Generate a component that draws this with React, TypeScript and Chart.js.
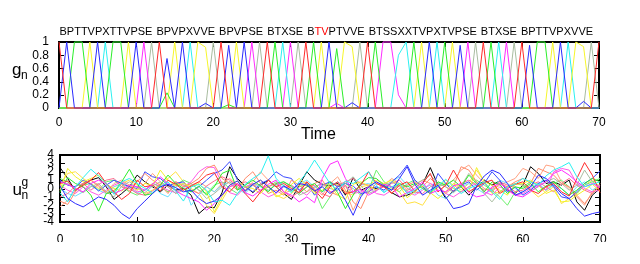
import React, { useEffect, useRef } from "react";
import { Chart, registerables } from "chart.js";

Chart.register(...registerables);

// ---------- data ----------
const TIME = [
  0, 1, 2, 3, 4, 5, 6, 7, 8, 9, 10, 11, 12, 13, 14, 15, 16, 17, 18, 19, 20,
  21, 22, 23, 24, 25, 26, 27, 28, 29, 30, 31, 32, 33, 34, 35, 36, 37, 38, 39, 40,
  41, 42, 43, 44, 45, 46, 47, 48, 49, 50, 51, 52, 53, 54, 55, 56, 57, 58, 59, 60,
  61, 62, 63, 64, 65, 66, 67, 68, 69, 70,
];

const SEQUENCE_WORDS = [
  "BPTTVPXTTVPSE", "BPVPXVVE", "BPVPSE", "BTXSE", "BTVPTVVE",
  "BTSSXXTVPXTVPSE", "BTXSE", "BPTTVPXVVE",
];
const RED_LETTERS = [33, 34];

// g_n : one unit per symbol
const G_B = [1,0,0,0,0,0,0,0,0,0, 0,0,0,1,0,0,0,0,0,0, 0,1,0,0,0,0,0,1,0,0, 0,0,1,0,0,0,0,0,0,0, 1,0,0,0,0,0,0,0,0,0, 0,0,0,0,0,1,0,0,0,0, 1,0,0,0,0,0,0,0,0,0, 1];
const G_P = [0,1,0,0,0,1,0,0,0,0, 1,0,0,0,0.75,0,1,0,0,0.07, 0,0,0.95,0,1,0,0,0,0,0, 0,0,0,0,0,1,0,0,0.08,0, 0,0,0,0,0,0,0,0,1,0, 0,0,0.95,0,0,0,0,0,0,0, 0,0.95,0,0,0,1,0,0,0.1,0, 0];
const G_T = [0,0,1,1,0,0,0,1,1,0, 0,0,0,0,0.23,0,0,0,0,0, 0,0,0.05,0,0,0,0,0,1,0, 0,0,0,1,0,0,0.9,0,0,0, 0,1,0,0,0,0,1,0,0,0, 1,0,0,0,0,0,1,0,0,0, 0,0,1,1,0,0,0,0,0,0, 0];
const G_V = [0,0,0,0,1,0,0,0,0,1, 0,0,0,0,0,1,0,0,1,0.92, 0,0,0,1,0,0,0,0,0,0, 0,0,0,0,1,0,0,1,0.93,0, 0,0,0,0,0,0,0,1,0,0, 0,1,0,0,0,0,0,0,0,0, 0,0,0,0,1,0,0,1,0.93,0, 0];
const G_X = [0,0,0,0,0,0,1,0,0,0, 0,0,0,0,0,0,0,1,0,0, 0,0,0,0,0,0,0,0,0,1, 0,0,0,0,0,0,0,0,0,0, 0,0,0,0,0.8,1,0,0,0,1, 0,0,0,0,0,0,0,1,0,0, 0,0,0,0,0,0,1,0,0,0, 0];
const G_S = [0,0,0,0,0,0,0,0,0,0, 0,1,0,0,0,0,0,0,0,0, 0,0,0,0,0,1,0,0,0,0, 1,0,0,0,0,0,0.07,0,0,0, 0,0,1,1,0.2,0,0,0,0,0, 0,0,0,1,0,0,0,0,1,0, 0,0,0,0,0,0,0,0,0,0, 0];
const G_E = [0,0,0,0,0,0,0,0,0,0, 0,0,1,0,0,0,0,0,0,0, 1,0,0,0,0,0,1,0,0,0, 0,1,0,0,0,0,0,0,0,1, 0,0,0,0,0,0,0,0,0,0, 0,0,0,0,1,0,0,0,0,1, 0,0,0,0,0,0,0,0,0,1, 0];

// u_n^g : hidden activities
const U_BLUE = [0.3,-1.2,-1.8,-2.2,-1.6,-1.0,-1.3,-2.0,-3.0,-3.6, -2.4,-1.5,-0.6,0.2,0.5,0.1,-0.4,-0.2,-1.2,-1.8, -1.5,-0.8,0.4,0.9,-0.3,0.5,1.0,0.2,-0.5,0.3, -0.2,0.6,0.4,-0.3,0.2,-0.6,0.1,-1.4,-3.2,-1.0, 0.2,0.8,0.3,-0.2,1.2,2.6,0.5,-0.8,-0.2,0.4, -1.0,-2.4,-2.2,-1.8,0.3,1.5,2.2,1.8,0.6,-0.8, -0.4,0.2,1.6,1.2,0.4,-0.6,-1.2,-2.4,-3.3,-3.0, -2.8];
const U_CYAN = [-0.5,-1.6,0.2,1.3,2.3,1.5,0.6,-0.7,0.8,1.2, 0.6,0.0,-0.5,0.2,0.8,-0.3,-1.5,0.2,0.5,-0.2, -1.6,-1.4,-2.0,-0.6,0.5,1.2,1.8,3.9,1.2,0.3, -0.5,0.8,1.9,3.4,2.0,0.6,-0.2,0.9,0.6,1.3, 2.0,0.4,-0.5,0.2,0.6,-0.6,-0.2,0.5,-0.4,0.3, 1.1,0.2,-0.6,0.0,0.4,0.8,-0.4,-1.3,0.2,0.5, 1.2,0.8,0.4,1.5,2.2,2.6,3.1,1.4,0.2,0.5, 0.8];
const U_MAGENTA = [0.8,0.5,0.0,-0.4,0.6,1.0,0.5,-0.6,-0.2,0.4, 0.2,-0.2,0.5,1.4,0.6,-0.3,-0.8,-1.2,-1.6,-2.6, -1.8,-0.8,0.2,0.6,-0.5,-0.9,-0.2,0.5,1.0,-0.4, -0.8,-1.6,-1.0,-1.7,1.2,2.9,3.3,1.2,-0.4,-0.1, -0.8,-0.3,0.5,0.2,-1.0,-0.5,0.0,0.8,-0.6,-0.2, -0.4,0.3,0.6,-0.5,-1.0,-0.8,0.2,0.6,0.0,-0.8, -1.0,-0.4,0.3,0.8,1.8,2.2,1.6,0.8,0.2,0.6, 0.1];
const U_RED = [0.6,0.9,-0.2,0.4,1.0,1.9,0.6,-0.4,-1.3,-0.6, 1.0,0.2,0.4,-0.3,1.0,0.5,-0.2,0.3,0.8,1.6, 1.9,0.2,-0.4,0.6,-0.6,-1.6,-0.4,1.0,0.2,0.6, 0.0,-0.5,0.8,-0.2,-1.2,0.2,0.8,-0.6,-0.4,0.4, 2.0,0.6,0.2,-0.6,0.4,0.8,-0.3,0.6,1.8,-0.4, 0.4,2.2,0.6,-0.4,0.2,0.7,1.0,-0.6,0.0,0.5, 0.8,-0.2,-0.6,0.2,0.6,-0.4,-0.9,1.2,3.1,1.6, -0.5];
const U_GREEN = [-0.4,1.3,0.6,0.2,-0.8,-2.7,-0.6,-0.4,0.8,2.3, 0.6,-0.8,-0.6,0.4,1.6,0.6,0.0,-0.4,0.3,-0.8, 0.2,1.8,2.2,-0.2,0.4,1.0,0.3,-0.4,0.6,0.8, 0.3,-0.6,0.2,0.6,-0.4,0.8,-0.5,-2.4,-0.8,0.6, 1.3,1.2,0.4,-0.2,0.6,0.2,0.6,0.0,-0.6,0.8, 0.4,1.0,0.2,1.6,0.6,-0.4,0.8,0.5,-0.6,0.2, 0.0,0.6,-0.4,0.3,0.8,0.0,-0.8,-0.2,0.6,1.2, 0.8];
const U_YELLOW = [-0.2,2.4,1.4,0.8,1.2,1.6,0.5,0.0,-0.3,0.4, -0.2,0.6,0.4,2.2,1.0,0.3,0.6,0.2,0.6,-0.4, -2.8,-1.0,0.4,0.9,0.2,0.0,-0.6,0.4,-1.0,-0.6, 0.5,1.2,0.4,-0.6,-0.2,0.3,-0.8,-1.3,0.5,0.8, 0.3,-0.2,0.6,1.0,0.4,-1.1,-0.4,0.4,-0.5,-1.2, -0.4,0.6,0.2,-0.3,2.5,0.8,0.4,-0.2,-0.8,0.5, 0.6,1.0,0.4,-0.6,-0.2,-1.6,-1.5,-0.8,-0.2,0.5, -0.3];
const U_SALMON = [-1.5,-1.9,-0.4,0.6,1.0,0.4,-0.6,-0.2,0.5,-0.3, 0.8,1.8,1.0,0.4,-0.6,0.8,0.2,0.6,1.2,2.4, 2.8,1.2,0.6,-0.2,1.2,2.0,0.6,-0.6,-0.2,-0.8, 1.0,0.4,-0.4,0.6,1.0,-0.4,-0.8,0.4,-1.6,-2.4, -0.4,0.6,0.2,-0.5,0.0,0.4,0.8,0.2,1.2,0.4, -0.6,0.2,2.6,2.2,0.8,0.0,-0.4,0.6,0.2,0.8, 1.2,0.6,2.4,2.0,1.6,0.6,0.2,-0.8,-1.8,-0.6, 0.3];
const U_GRAYGREEN = [0.2,0.6,0.0,-0.5,0.2,0.6,-0.4,-1.0,0.3,0.8, 0.1,-0.5,0.3,0.8,0.2,-0.6,0.2,0.6,-0.2,-1.2, -0.6,0.2,0.8,0.2,-0.4,0.6,0.3,-0.2,0.4,0.8, 0.2,-0.8,-0.4,0.2,0.6,0.0,-0.2,0.6,1.4,0.3, -0.6,-0.2,0.4,0.8,0.2,-0.3,0.5,1.0,1.6,0.6, 0.2,-0.5,0.3,1.8,0.8,-0.6,-1.6,-0.4,0.2,0.6, 0.4,-0.3,0.2,0.8,1.2,0.6,-0.2,0.4,2.2,0.8, 0.2];
const U_BLUE2 = [1.0,0.4,0.2,1.0,0.5,-0.3,0.4,1.0,0.6,0.2, 0.0,2.0,1.4,1.2,0.4,0.6,0.8,-0.4,0.2,1.0, 1.8,2.2,3.2,1.0,0.2,-0.4,0.6,1.0,2.0,1.4, 1.2,-0.2,0.6,-0.8,0.4,0.8,0.2,0.6,0.3,-0.6, -0.4,0.2,-0.2,0.8,1.6,2.8,1.0,0.2,-0.6,1.8, 0.6,-0.4,0.4,0.8,-0.2,0.6,2.0,1.0,-0.4,0.2, -0.8,-0.2,0.6,1.0,0.2,-1.0,-1.2,-0.4,0.6,1.2, 2.1];
const U_PINK = [-1.0,-0.6,0.3,0.6,-0.2,0.5,1.0,1.2,0.2,0.0, -0.6,-0.8,-0.3,0.5,0.2,0.8,0.4,-0.2,-0.6,0.3, 0.9,1.4,1.0,0.3,0.8,0.4,-0.2,0.2,0.6,-0.4, -1.0,-0.4,0.2,0.4,-0.6,-1.0,0.4,0.8,1.2,0.6, 0.4,-0.2,0.2,0.6,1.0,0.0,-0.4,-0.6,0.2,0.6, 0.2,-0.3,0.6,1.0,0.4,-0.2,0.0,0.8,0.4,-0.4, -0.2,0.4,0.8,0.2,-0.4,0.6,1.2,0.4,-0.2,-0.6, 0.4];
const U_MAGENTA2 = [0.4,-0.2,-0.6,0.2,-0.4,-0.8,-0.2,0.4,0.8,0.2, -0.4,-0.2,0.6,0.3,-0.2,-0.5,0.2,0.8,2.0,2.6, 2.5,0.6,-0.5,-0.8,0.2,0.6,-0.4,-1.0,-0.6,0.2, 0.4,-0.2,-0.8,0.2,0.6,-0.4,-0.2,0.4,-0.6,-0.4, 0.2,-0.6,-0.8,-0.2,0.4,-0.4,-0.8,-0.2,0.6,0.2, -0.6,-1.0,-0.4,0.2,0.6,-0.4,-0.8,0.2,-0.2,-0.8, -0.6,0.0,0.4,-0.2,2.0,2.4,2.2,0.6,0.0,-0.4, -0.2];
const U_CYAN2 = [0.0,-0.6,-0.9,-0.4,0.3,-0.2,-0.6,0.2,0.6,0.0, -0.5,-0.2,0.4,-0.6,-1.0,0.2,0.6,-2.0,-0.8,0.2, -0.4,0.4,0.8,0.0,-0.6,0.4,0.2,-0.3,0.5,0.2, -0.2,0.6,1.0,0.2,-0.4,0.2,0.8,0.2,-0.6,0.4, 0.6,0.2,-0.4,0.8,1.4,0.4,-0.6,0.0,0.4,-0.8, -1.2,-0.4,0.2,0.6,0.0,-0.6,-0.2,1.0,0.6,0.0, -0.4,0.2,0.6,-0.2,0.4,0.0,-0.8,0.2,0.8,-0.2, 0.4];
const U_GREEN2 = [1.2,0.8,-0.2,0.4,0.6,-0.2,0.8,1.0,0.2,-0.4, -0.8,-0.2,0.6,0.2,-0.4,0.4,1.0,0.6,-0.2,-0.6, 0.4,0.8,0.0,-0.6,0.2,0.4,-0.3,0.2,0.8,0.4, -0.4,0.2,0.6,-0.2,-2.4,-1.0,0.4,0.6,0.0,-0.8, -0.2,2.2,0.8,0.2,-0.4,0.6,1.0,0.2,-0.4,0.2, 0.6,0.0,-0.4,0.2,1.0,0.4,-0.2,-1.0,-2.0,-0.4, 0.2,0.8,0.4,-0.2,0.6,1.0,0.2,-0.6,0.4,0.8, 1.2];
const U_SALMON2 = [-2.2,-1.4,-0.2,0.4,1.0,0.2,-0.4,0.6,1.0,0.4, -0.2,0.6,1.8,0.8,0.2,-0.6,-0.2,0.4,0.8,0.2, -0.4,0.6,1.2,0.4,-0.2,0.8,2.0,1.0,0.2,-0.6, -0.2,0.4,0.8,0.0,-0.8,0.6,1.4,-0.2,-2.6,-0.6, 0.2,0.8,0.4,1.2,0.6,-0.2,0.4,1.0,0.6,-0.4, 0.4,1.0,2.2,2.8,1.6,0.6,-0.2,0.4,0.8,1.2, 2.4,2.0,1.2,2.8,2.6,0.8,0.0,-1.0,-2.0,-0.4, 0.6];
const U_YELLOW2 = [0.4,1.8,2.0,1.2,0.6,0.0,-0.4,0.2,0.6,1.0, 0.4,-0.6,-0.2,0.6,1.2,2.0,0.8,0.0,-0.6,-2.0, -3.0,-1.4,0.2,0.6,-0.2,0.4,1.0,0.2,-0.8,-1.2, -0.6,0.2,0.4,-0.4,0.2,0.8,0.4,-0.4,-0.8,0.2, 0.4,1.0,0.6,0.0,-0.4,-1.8,-1.6,-2.0,-0.6,0.2, 1.0,0.4,-0.2,0.6,2.2,0.8,-0.6,-0.4,0.2,0.6, 0.4,-0.2,-1.0,-0.4,0.2,-1.8,-1.2,-0.6,0.4,1.0, 0.2];
const U_BLACK = [2.5,1.2,-0.3,0.6,1.0,1.3,0.2,-1.3,-0.6,0.2, 1.6,0.8,0.2,-0.4,0.4,-0.2,0.0,-0.8,-3.0,-2.2, -2.3,-0.5,2.6,1.2,0.3,-0.5,0.4,1.0,0.2,-0.6, -1.3,0.4,2.0,1.0,0.5,0.3,0.6,-0.8,1.3,-0.2, 0.2,0.0,0.3,-0.5,-1.0,-0.8,-0.4,0.5,2.5,0.4, -1.2,-0.3,0.2,-0.8,0.2,1.0,0.4,0.9,-0.2,-0.6, 0.4,2.6,1.8,0.6,0.8,0.4,1.0,-1.6,-2.6,-0.8, 0.0];

// ---------- styling ----------
const FONT = '"Liberation Sans", Arial, sans-serif';

const G_SETS = [
  { values: G_B, color: "#ff2a2a" },
  { values: G_P, color: "#2a2aff" },
  { values: G_T, color: "#2aee2a" },
  { values: G_V, color: "#f6f62a" },
  { values: G_X, color: "#2af0f0" },
  { values: G_S, color: "#ff2aff" },
  { values: G_E, color: "#a8bca0" },
];

const U_SETS = [
  { values: U_BLUE, color: "#2a2aff" },
  { values: U_CYAN, color: "#2af0f0" },
  { values: U_MAGENTA, color: "#ff2aff" },
  { values: U_RED, color: "#ff2a2a" },
  { values: U_GREEN, color: "#2aee2a" },
  { values: U_YELLOW, color: "#f2f22a" },
  { values: U_SALMON, color: "#ff8a6a" },
  { values: U_GRAYGREEN, color: "#a8bca0" },
  { values: U_BLUE2, color: "#3a4aff" },
  { values: U_PINK, color: "#ff6a90" },
  { values: U_MAGENTA2, color: "#ff5ae6" },
  { values: U_CYAN2, color: "#6ae0ff" },
  { values: U_GREEN2, color: "#6af06a" },
  { values: U_SALMON2, color: "#ffa080" },
  { values: U_YELLOW2, color: "#ffe040" },
  { values: U_BLACK, color: "#000000" },
];

function toData(values: number[]) {
  return TIME.map((t, i) => ({ x: t, y: values[i] }));
}

function frameAndTicks(ctx: CanvasRenderingContext2D, chart: any) {
  const { left, right, top, bottom } = chart.chartArea;
  const xs = chart.scales.x;
  const ys = chart.scales.y;
  ctx.save();
  ctx.strokeStyle = "#000";
  ctx.lineWidth = 1;
  ctx.beginPath();
  xs.ticks.forEach((t: any) => {
    const px = Math.round(xs.getPixelForValue(t.value)) + 0.5;
    ctx.moveTo(px, bottom);
    ctx.lineTo(px, bottom - 5);
    ctx.moveTo(px, top);
    ctx.lineTo(px, top + 5);
  });
  ys.ticks.forEach((t: any) => {
    const py = Math.round(ys.getPixelForValue(t.value)) + 0.5;
    ctx.moveTo(left, py);
    ctx.lineTo(left + 5, py);
    ctx.moveTo(right, py);
    ctx.lineTo(right - 5, py);
  });
  ctx.stroke();
  ctx.lineWidth = 2;
  ctx.strokeRect(left, top, right - left, bottom - top);
  ctx.restore();
}

function fmtTick(v: number | string) {
  const n = Math.round(Number(v) * 10) / 10;
  return String(n);
}

function makeOptions(
  area: { left: number; right: number; top: number; bottom: number },
  xLabelGap: number,
  yMin: number,
  yMax: number,
  yStep: number,
  yLabelGap: number
) {
  const xAxisH = 20;
  return {
    responsive: false,
    animation: false as const,
    devicePixelRatio: 1,
    layout: {
      padding: {
        left: 0,
        right: 640 - area.right,
        top: area.top,
        bottom: 264 - area.bottom - xAxisH,
      },
    },
    plugins: { legend: { display: false }, tooltip: { enabled: false }, title: { display: false } },
    elements: { point: { radius: 0 }, line: { borderWidth: 1, tension: 0 } },
    scales: {
      x: {
        type: "linear" as const,
        min: 0,
        max: 70,
        grid: { display: false, drawTicks: false },
        border: { display: false },
        ticks: {
          stepSize: 10,
          padding: xLabelGap,
          color: "#000",
          font: { family: FONT, size: 12 },
          maxRotation: 0,
          callback: (v: any) => fmtTick(v),
        },
        afterFit: (s: any) => {
          s.height = xAxisH;
        },
      },
      y: {
        type: "linear" as const,
        min: yMin,
        max: yMax,
        grid: { display: false, drawTicks: false },
        border: { display: false },
        ticks: {
          stepSize: yStep,
          autoSkip: false,
          padding: yLabelGap,
          color: "#000",
          font: { family: FONT, size: 12 },
          callback: (v: any) => fmtTick(v),
        },
        afterFit: (s: any) => {
          s.width = area.left;
        },
      },
    },
  };
}

export default function App() {
  const topRef = useRef<HTMLCanvasElement | null>(null);
  const botRef = useRef<HTMLCanvasElement | null>(null);

  useEffect(() => {
    const topCanvas = topRef.current!;
    const botCanvas = botRef.current!;

    const topPlugin = {
      id: "topDecor",
      beforeDatasetsDraw(chart: any) {
        frameAndTicks(chart.ctx, chart);
      },
      afterDraw(chart: any) {
        const ctx: CanvasRenderingContext2D = chart.ctx;
        ctx.save();
        ctx.textBaseline = "alphabetic";
        ctx.textAlign = "left";
        // sequence of symbols
        ctx.font = `11px ${FONT}`;
        let x = 59.5;
        let letterIdx = 0;
        SEQUENCE_WORDS.forEach((w) => {
          for (const ch of w) {
            ctx.fillStyle = RED_LETTERS.includes(letterIdx) ? "#ff0000" : "#000";
            ctx.fillText(ch, x, 35);
            x += ctx.measureText(ch).width;
            letterIdx++;
          }
          x += 4;
        });
        // y label g_n
        ctx.fillStyle = "#000";
        ctx.font = `17px ${FONT}`;
        ctx.fillText("g", 12, 75);
        ctx.font = `12px ${FONT}`;
        ctx.fillText("n", 21, 78.5);
        // x label
        ctx.font = `16px ${FONT}`;
        ctx.textAlign = "center";
        ctx.fillText("Time", 318.5, 139);
        ctx.restore();
      },
    };

    const botPlugin = {
      id: "botDecor",
      beforeDatasetsDraw(chart: any) {
        frameAndTicks(chart.ctx, chart);
      },
      afterDraw(chart: any) {
        const ctx: CanvasRenderingContext2D = chart.ctx;
        ctx.save();
        ctx.fillStyle = "#000";
        ctx.textBaseline = "alphabetic";
        ctx.textAlign = "left";
        ctx.font = `17px ${FONT}`;
        ctx.fillText("u", 12.5, 195);
        ctx.font = `12px ${FONT}`;
        ctx.fillText("n", 21.5, 198.5);
        ctx.fillText("g", 21.5, 186);
        ctx.font = `16px ${FONT}`;
        ctx.textAlign = "center";
        ctx.fillText("Time", 318.5, 255);
        ctx.restore();
      },
    };

    const topChart = new Chart(topCanvas, {
      type: "line",
      data: {
        datasets: G_SETS.map((s) => ({
          data: toData(s.values),
          borderColor: s.color,
          backgroundColor: s.color,
          borderWidth: 1,
          pointRadius: 0,
          fill: false,
          clip: false as any,
        })),
      },
      options: makeOptions({ left: 59, right: 599, top: 42, bottom: 108 }, 7, 0, 1, 0.2, 10) as any,
      plugins: [topPlugin],
    });

    const botChart = new Chart(botCanvas, {
      type: "line",
      data: {
        datasets: U_SETS.map((s) => ({
          data: toData(s.values),
          borderColor: s.color,
          backgroundColor: s.color,
          borderWidth: 1,
          pointRadius: 0,
          fill: false,
          clip: false as any,
        })),
      },
      options: makeOptions({ left: 60, right: 600, top: 155, bottom: 222 }, 10, -4, 4, 1, 6) as any,
      plugins: [botPlugin],
    });

    return () => {
      topChart.destroy();
      botChart.destroy();
    };
  }, []);

  const canvasStyle: React.CSSProperties = {
    position: "absolute",
    left: 0,
    top: 0,
    width: 640,
    height: 264,
  };

  return (
    <div style={{ position: "fixed", left: 0, top: 0, width: 640, height: 264, background: "#fff" }}>
      <canvas ref={topRef} width={640} height={264} style={canvasStyle} />
      <canvas ref={botRef} width={640} height={264} style={canvasStyle} />
    </div>
  );
}
